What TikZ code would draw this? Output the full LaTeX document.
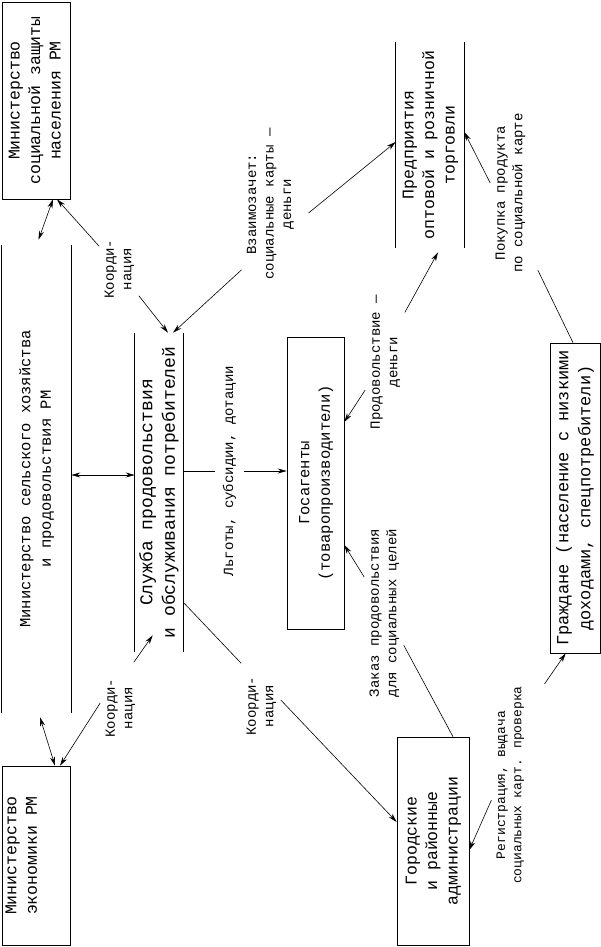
\documentclass[tikz,border=0pt]{standalone}
\usepackage{fontspec}
\setmainfont{Liberation Mono}
\usepackage{graphicx}
\usepackage{tikz}
\usetikzlibrary{arrows.meta}

\newcommand\vtext[1]{\rotatebox{90}{\begin{tabular}{@{}c@{}}#1\end{tabular}}}

\tikzset{
 box/.style={draw,inner sep=0pt,font=\fontsize{16.5}{20.5}\selectfont},
 openbox/.style={inner sep=0pt,font=\fontsize{16.5}{20.5}\selectfont},
 lbl/.style={inner sep=2pt,font=\fontsize{14}{17.5}\selectfont},
 arr/.style={-{Stealth[length=9pt,width=5pt]}},
 darr/.style={{Stealth[length=9pt,width=5pt]}-{Stealth[length=9pt,width=5pt]}},
}

\begin{document}
\begin{tikzpicture}[x=1pt,y=-1pt,line width=0.6pt]
 	\useasboundingbox (0,0) rectangle (601,947);
 	\node[box,minimum width=68pt,minimum height=197pt] (msz) at (36,100.5) {\vtext{Министерство\\социальной защиты\\населения РМ}};
 	\node[openbox,minimum width=69pt,minimum height=468pt,font=\fontsize{15.5}{20.5}\selectfont] (msh) at (36.5,479) {\vtext{Министерство сельского хозяйства\\и продовольствия РМ}};
 	\draw (msh.north west)--(msh.south west) (msh.north east)--(msh.south east);
 	\node[box,minimum width=68pt,minimum height=179pt] (mek) at (36,855.5) {};
 	\node[openbox,anchor=west] (mektxt) at (mek.west) {\vtext{Министерство\\экономики РМ}};
 	\node[openbox,minimum width=48pt,minimum height=319pt,font=\fontsize{18}{22.5}\selectfont] (spo) at (159,492.5) {\vtext{Служба продовольствия\\и обслуживания потребителей}};
 	\draw (spo.north west)--(spo.south west) (spo.north east)--(spo.south east);
 	\node[box,minimum width=57pt,minimum height=292pt,font=\fontsize{15.5}{20.5}\selectfont] (gos) at (315.5,483) {\vtext{Госагенты\\(товаропроизводители)}};
 	\node[openbox,minimum width=68pt,minimum height=206pt] (pred) at (430,145) {\vtext{Предприятия\\оптовой и розничной\\торговли}};
 	\draw (pred.north west)--(pred.south west) (pred.north east)--(pred.south east);
 	\node[box,minimum width=50pt,minimum height=310pt,font=\fontsize{17}{22}\selectfont] (grazh) at (575,498) {\vtext{Граждане (население с низкими\\доходами, спецпотребители)}};
 	\node[box,minimum width=72pt,minimum height=208pt] (gor) at (433,841) {\vtext{Городские\\и районные\\администрации}};

 	\node[lbl] (k1) at (119,269) {\vtext{Коорди-\\нация}};
 	\node[lbl] (k2) at (120,708) {\vtext{Коорди-\\нация}};
 	\node[lbl] (k3) at (261,706) {\vtext{Коорди-\\нация}};
 	\node[lbl] (vz) at (270,204) {\vtext{Взаимозачет:\\социальные карты —\\деньги}};
 	\node[lbl,inner xsep=5pt] (lg) at (229.5,471) {\vtext{Льготы, субсидии, дотации}};
 	\node[lbl] (prd) at (385,362) {\vtext{Продовольствие —\\деньги}};
 	\node[lbl] (zak) at (384,613) {\vtext{Заказ продовольствия\\для социальных целей}};
 	\node[lbl] (pok) at (510,193) {\vtext{Покупка продукта\\по социальной карте}};
 	\node[lbl,font=\fontsize{13}{16.25}\selectfont] (reg) at (510,785) {\vtext{Регистрация, выдача\\социальных карт. проверка}};

 	\draw[darr] ([shift={(2,-5)}]msh.north)--([xshift=17pt]msz.south);
 	\draw[arr] ([yshift=-9pt]k1.north west)--([xshift=21pt]msz.south);
 	\draw[arr] ([yshift=5pt]k1.south east)--([xshift=9pt]spo.north);
 	\draw[arr] ([yshift=12pt]vz.south west)--([xshift=14pt]spo.north);
 	\draw[arr] ([shift={(10,9)}]vz.east)--([yshift=3pt]pred.west);
 	\draw[darr] ([yshift=4pt]msh.east)--([yshift=4pt]msh.east -| spo.west);
 	\draw (spo.east |- lg.west)--(lg.west);
 	\draw[arr] (lg.east)--(lg.east -| gos.west);
 	\draw ([yshift=50pt]spo.south east)--([yshift=11pt]k3.north west);
 	\draw[arr] ([yshift=6pt]k3.east)--([yshift=19pt]gor.west);
 	\draw[arr] ([shift={(-6,-14)}]k2.north east)--([shift={(18,-17)}]spo.south west);
 	\draw[arr] ([yshift=5pt]k2.west)--([xshift=24pt]mek.north);
 	\draw[darr] ([shift={(3.5,4)}]msh.south)--([xshift=19pt]mek.north);
 	\draw[arr] ([yshift=-28pt]prd.west)--([yshift=61pt]gos.east);
 	\draw[arr] ([yshift=-20pt]prd.north east)--([shift={(8,4)}]pred.south);
 	\draw[arr] ([yshift=36pt]zak.west)--([yshift=-62pt]gos.east);
 	\draw ([xshift=20pt]gor.north)--([yshift=54pt]zak.south east);
 	\draw[arr] ([yshift=10pt]pok.west)--([yshift=13pt]pred.east);
 	\draw ([xshift=-2pt]grazh.north)--([shift={(8,-5)}]pok.south east);
 	\draw[arr] ([yshift=-15pt]reg.west)--([yshift=-9pt]gor.east);
 	\draw[arr] ([xshift=16pt]reg.north east)--([xshift=16pt]grazh.south west);
\end{tikzpicture}
\end{document}
